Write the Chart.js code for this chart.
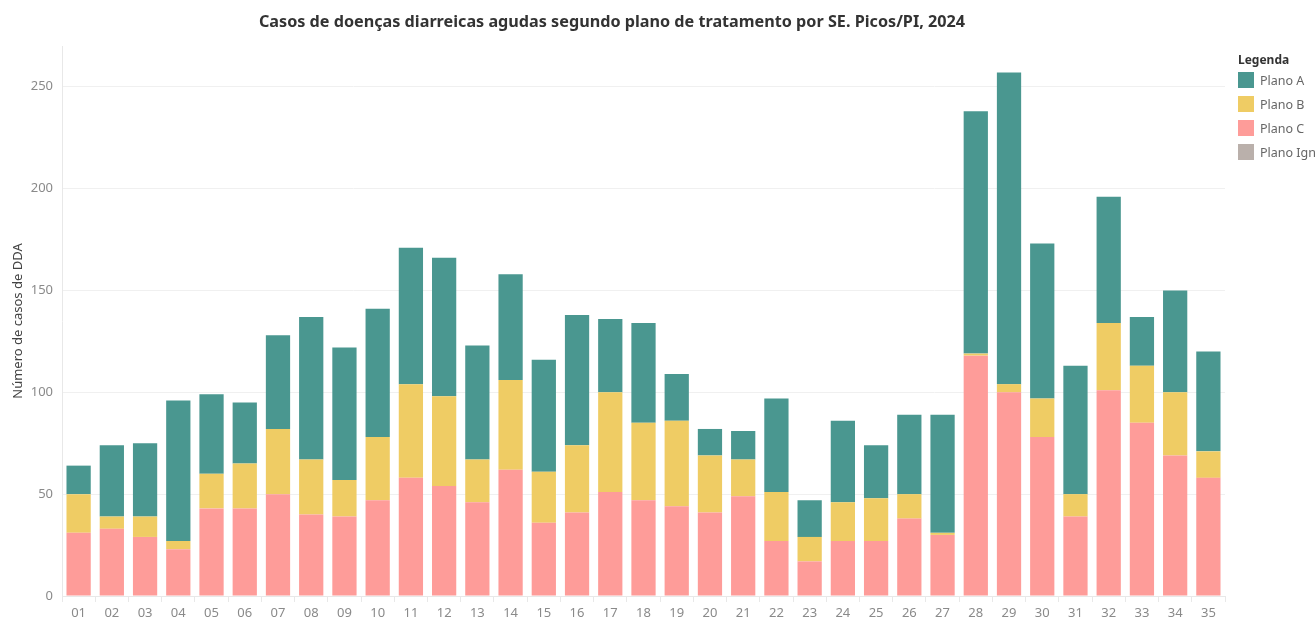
<!DOCTYPE html>
<html>
<head>
<meta charset="utf-8">
<script src="https://cdn.jsdelivr.net/npm/chart.js@4"></script>
<style>
  html, body { margin: 0; padding: 0; background: #fff; overflow: hidden; }
  #wrap { position: relative; width: 1316px; height: 618px; }
  #title { position: absolute; top: 10px; left: 612px; transform: translateX(-50%); white-space: nowrap;
           font-family: "Noto Sans", sans-serif; font-weight: bold; font-size: 16.2px; color: #333; }
  #legend { position: absolute; left: 1238px; top: 51px; font-family: "Noto Sans", sans-serif; white-space: nowrap; }
  #legend .ttl { font-size: 12px; font-weight: bold; color: #333; height: 17px; line-height: 17px; }
  #legend .item { display: flex; align-items: center; height: 24px; font-size: 12.5px; color: #666; }
  #legend .sw { width: 16px; height: 16px; margin-right: 6px; }
  canvas { position: absolute; left: 0; top: 0; }
</style>
</head>
<body>
<div id="wrap">
  <canvas id="chart" width="1316" height="618"></canvas>
  <div id="title">Casos de doenças diarreicas agudas segundo plano de tratamento por SE. Picos/PI, 2024</div>
  <div id="legend"></div>
</div>
<script>
const semanas = ['01','02','03','04','05','06','07','08','09','10','11','12','13','14','15','16','17','18',
                 '19','20','21','22','23','24','25','26','27','28','29','30','31','32','33','34','35'];

const planoC = [31,33,29,23,43,43,50,40,39,47,58,54,46,62,36,41,51,47,44,41,49,27,17,27,27,38,30,118,100,78,39,101,85,69,58];
const planoB = [19,6,10,4,17,22,32,27,18,31,46,44,21,44,25,33,49,38,42,28,18,24,12,19,21,12,1,1,4,19,11,33,28,31,13];
const planoA = [14,35,36,69,39,30,46,70,65,63,67,68,56,52,55,64,36,49,23,13,14,46,18,40,26,39,58,119,153,76,63,62,24,50,49];
const planoIgn = new Array(35).fill(0);

const legendaNomes = ['Plano A', 'Plano B', 'Plano C', 'Plano Ign'];
const cores = ['#4a9790', '#efcc64', '#fe9c99', '#bab0ab'];

// ordem de empilhamento: C em baixo, depois B, depois A
const datasets = [
  { label: 'Plano C', data: planoC, backgroundColor: cores[2] },
  { label: 'Plano B', data: planoB, backgroundColor: cores[1] },
  { label: 'Plano A', data: planoA, backgroundColor: cores[0] },
  { label: 'Plano Ign', data: planoIgn, backgroundColor: cores[3] }
];

const tickFont = { family: '"Noto Sans", sans-serif', size: 13 };

new Chart(document.getElementById('chart'), {
  type: 'bar',
  data: { labels: semanas, datasets: datasets },
  options: {
    responsive: false,
    animation: false,
    layout: { padding: { left: 0, right: 91, top: 46, bottom: 0 } },
    datasets: { bar: { barPercentage: 0.73, categoryPercentage: 1, borderWidth: 0 } },
    plugins: { legend: { display: false }, tooltip: { enabled: false } },
    scales: {
      x: {
        stacked: true,
        grid: { drawOnChartArea: false, drawTicks: true, tickLength: 6, color: '#e8e8e8' },
        border: { display: true, color: '#e8e8e8' },
        ticks: { color: '#8a8a8a', font: tickFont, padding: 3, maxRotation: 0 },
        afterFit: s => { s.height = 618 - 596; }
      },
      y: {
        stacked: true,
        min: 0, max: 270,
        afterBuildTicks: s => { s.ticks = s.ticks.filter(t => t.value % 50 === 0); },
        grid: { color: '#f0f0f0', drawTicks: false },
        border: { display: true, color: '#e8e8e8' },
        ticks: { stepSize: 50, color: '#8a8a8a', font: tickFont, padding: 9 },
        title: { display: true, text: 'Número de casos de DDA', color: '#444',
                 font: { family: '"Noto Sans", sans-serif', size: 13 }, padding: { top: 10, bottom: 0 } },
        afterFit: s => { s.width = 62; }
      }
    }
  }
});

const leg = document.getElementById('legend');
leg.innerHTML = '<div class="ttl">Legenda</div>' + legendaNomes.map((n, i) =>
  `<div class="item"><span class="sw" style="background:${cores[i]}"></span>${n}</div>`).join('');
</script>
</body>
</html>
